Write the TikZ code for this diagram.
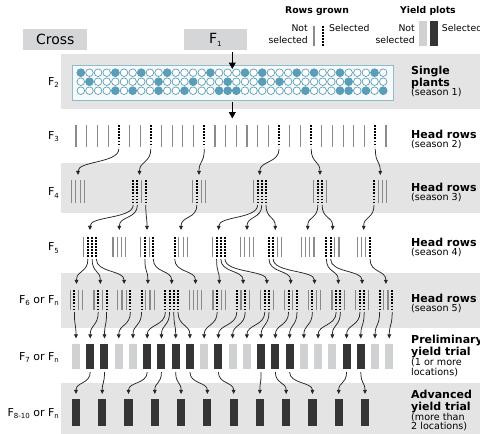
\documentclass[tikz,border=0pt]{standalone}
\usepackage{fontspec}
\setmainfont{DejaVu Sans}
\usetikzlibrary{arrows.meta}
\definecolor{band}{HTML}{E4E4E4}
\definecolor{boxg}{HTML}{D5D6D7}
\definecolor{tealf}{HTML}{5A9DB8}
\definecolor{tealb}{HTML}{8CBCCD}
\definecolor{poolbg}{HTML}{F6FAFB}
\definecolor{rowg}{HTML}{8A8A8A}
\definecolor{plotl}{HTML}{D0D1D3}
\definecolor{plotd}{HTML}{353535}
\newcommand\Fsb[1]{F\raisebox{-2.5pt}{\fontsize{7}{7}\selectfont #1}}
\newcommand\blf{\fontsize{11}{12}\selectfont\bfseries}
\newcommand\smf{\fontsize{9.6}{10}\selectfont}
\newcommand\lgf{\fontsize{9.3}{10}\selectfont}
\tikzset{
  topbox/.style={fill=boxg, inner sep=0pt, font=\fontsize{14}{15}\selectfont},
  rlab/.style={anchor=base west, inner sep=0pt},
  llab/.style={anchor=base east, inner sep=0pt, font=\fontsize{11}{12}\selectfont},
  r0/.style={draw=rowg, line width=1.1pt},
  r1/.style={draw=black, line width=2pt, dash pattern=on 1.8pt off 1.3pt},
  conn/.style={draw=black!85, line width=0.75pt, -{Triangle[length=4.2pt,width=3.8pt]}},
  bigarrow/.style={draw=black, line width=1.1pt, -{Triangle[length=6.5pt,width=7pt]}},
  emptyc/.style={draw=tealf, line width=0.7pt, fill=white},
  fullc/.style={draw=tealf, line width=0.7pt, fill=tealf},
  plotL/.style={fill=plotl, draw=none},
  plotD/.style={fill=plotd, draw=none}
}
\begin{document}
\begin{tikzpicture}[x=1pt,y=-1pt]
\useasboundingbox (0,0) rectangle (480,434);
\fill[white] (0,0) rectangle (480,434);
% bands
\foreach \t/\b in {54/109,163.3/213.3,273.3/328,383.3/434}
  \fill[band] (61,\t) rectangle (480,\b);
% top boxes
\node[topbox, minimum width=64pt, minimum height=20.7pt] (cross) at (55.3,39.65) {Cross};
\node[topbox, minimum width=62.7pt, minimum height=20.7pt] (f1) at (215.35,39.65) {\Fsb{1}};
% legend
\node[anchor=base, inner sep=0pt, font=\lgf\bfseries] (lgRows) at (317,13) {Rows grown};
\node[anchor=base, inner sep=0pt, font=\lgf\bfseries] (lgYield) at (428,13) {Yield plots};
\node[anchor=base east, inner sep=0pt, font=\lgf] (lgN1) at (308,31.7) {Not};
\node[anchor=base east, inner sep=0pt, font=\lgf] (lgN2) at (308,43.3) {selected};
\node[anchor=base west, inner sep=0pt, font=\lgf] (lgS1) at (329,31.7) {Selected};
\node[anchor=base east, inner sep=0pt, font=\lgf] (lgN3) at (415,31.7) {Not};
\node[anchor=base east, inner sep=0pt, font=\lgf] (lgN4) at (415,43.3) {selected};
\node[anchor=base west, inner sep=0pt, font=\lgf] (lgS2) at (441.7,31.7) {Selected};
\draw[r0] (314,25.7) -- (314,45.7);
\draw[r1] (323.3,25.7) -- (323.3,45.7);
\fill[plotL] (419,21) rectangle (426.7,45.7);
\fill[plotD] (430,21) rectangle (438.3,45.7);
% single plants pool
\node[draw=tealb, fill=poolbg, line width=1pt, inner sep=0pt, minimum width=321pt, minimum height=34.3pt] (pool) at (232.5,82.85) {};
\foreach \yy in {72.7,81.7,90.7}
  \foreach \i in {0,...,35}
    \draw[emptyc] ({80.8+8.64*\i},\yy) circle[radius=3.8pt];
\foreach \yy/\lst in {72.7/{0,4,7,10,15,19,21,25,27,30,34},81.7/{1,9,13,17,21,23,31},90.7/{4,6,9,12,16,17,18,26,30,31,33,35}}
  \foreach \i in \lst
    \draw[fullc] ({80.8+8.64*\i},\yy) circle[radius=3.8pt];
% big arrows
\coordinate (a1s) at (232.3,52);
\coordinate (a1t) at (232.3,69);
\coordinate (a2s) at (232.3,102);
\coordinate (a2t) at (232.3,118.5);
\draw[bigarrow] (a1s) -- (a1t);
\draw[bigarrow] (a2s) -- (a2t);
% F3 rows
\foreach \i in {0,1,2,3,5,6,8,9,10,11,13,14,15,16,17,18,20,21,23,24,25,26,27,29}
  \draw[r0] ({76+10.69*\i},125) -- ({76+10.69*\i},146.7);
\foreach \i in {4,7,12,19,22,28}
  \draw[r1] ({76+10.69*\i},125) -- ({76+10.69*\i},146.7);
% F4 groups
\foreach \c/\a/\b/\d/\e in {78/0/0/0/0,139.5/1/1/0/1,199/0/1/0/0,259.7/0/1/1/1,320/0/1/1/0,380.3/1/0/0/0}{
  \draw[r\a] ({\c-6.3},180) -- ({\c-6.3},203.3);
  \draw[r\b] ({\c-2.1},180) -- ({\c-2.1},203.3);
  \draw[r\d] ({\c+2.1},180) -- ({\c+2.1},203.3);
  \draw[r\e] ({\c+6.3},180) -- ({\c+6.3},203.3);
}
% F5 groups
\foreach \c/\a/\b/\d/\e in {90/0/1/1/1,119.3/0/0/0/0,147/0/1/0/1,181/1/0/0/0,218.7/0/1/1/1,247/0/0/0/0,275.3/1/1/0/0,307.7/0/0/0/0,332.7/1/1/0/0,363.7/0/0/0/1}{
  \draw[r\a] ({\c-6.3},236.7) -- ({\c-6.3},257.3);
  \draw[r\b] ({\c-2.1},236.7) -- ({\c-2.1},257.3);
  \draw[r\d] ({\c+2.1},236.7) -- ({\c+2.1},257.3);
  \draw[r\e] ({\c+6.3},236.7) -- ({\c+6.3},257.3);
}
% F6 groups
\foreach \c/\a/\b/\d/\e in {76.5/0/1/0/0,100.3/0/1/0/1,124.1/0/0/0/1,147.9/1/0/0/0,171.7/1/1/1/1,195.5/0/0/0/0,219.3/0/1/0/0,243.1/1/0/1/0,266.9/0/1/1/0,290.7/0/1/0/1,314.5/0/1/0/0,338.3/0/1/1/0,362.1/0/1/1/0,385.9/1/0/0/1}{
  \draw[r\a] ({\c-6.3},290) -- ({\c-6.3},310);
  \draw[r\b] ({\c-2.1},290) -- ({\c-2.1},310);
  \draw[r\d] ({\c+2.1},290) -- ({\c+2.1},310);
  \draw[r\e] ({\c+6.3},290) -- ({\c+6.3},310);
}
% F7 plots
\foreach \i/\k in {0/L,1/D,2/D,3/L,4/L,5/D,6/D,7/D,8/D,9/L,10/D,11/L,12/L,13/D,14/D,15/D,16/L,17/L,18/L,19/D,20/D,21/L,22/L}
  \fill[plot\k] ({76+14.24*\i-4},344) rectangle ({76+14.24*\i+4},369.3);
% F8 plots
\foreach \j in {0,...,11}
  \fill[plotD] ({76+26.27*\j-4.1},399.3) rectangle ({76+26.27*\j+4.1},426);
% connectors F3 -> F4
\foreach \k/\s/\t in {1/118.8/78,2/150.8/139.5,3/204.3/199,4/279.1/259.7,5/311.2/320,6/375.3/380.3}{
  \coordinate (c34s\k) at (\s,149);
  \coordinate (c34t\k) at (\t,175);
  \draw[conn] (c34s\k) .. controls +(0,14) and +(0,-14) .. (c34t\k);
}
% connectors F4 -> F5
\foreach \k/\s/\t in {1/133.2/90,2/137.4/119.3,3/145.8/147,4/196.9/181,5/257.6/218.7,6/261.8/247,7/266/275.3,8/317.9/307.7,9/322.1/332.7,10/374/363.7}{
  \coordinate (c45s\k) at (\s,205);
  \coordinate (c45t\k) at (\t,230);
  \draw[conn] (c45s\k) .. controls +(0,14) and +(0,-14) .. (c45t\k);
}
% connectors F5 -> F6
\foreach \k/\s/\t in {1/87.9/76.5,2/92.1/100.3,3/96.3/124.1,4/144.9/147.9,5/153.3/171.7,6/174.7/195.5,7/216.6/219.3,8/220.8/243.1,9/225/266.9,10/269/290.7,11/273.2/314.5,12/326.4/338.3,13/330.6/362.1,14/370/385.9}{
  \coordinate (c56s\k) at (\s,259);
  \coordinate (c56t\k) at (\t,284);
  \draw[conn] (c56s\k) .. controls +(0,14) and +(0,-14) .. (c56t\k);
}
% connectors F6 -> F7
\foreach \k/\s/\t in {1/74.4/76,2/98.2/90.24,3/106.6/104.48,4/130.4/118.72,5/141.6/132.96,6/165.4/147.2,7/169.6/161.44,8/173.8/175.68,9/178/189.92,10/217.2/204.16,11/236.8/218.4,12/245.2/232.64,13/264.8/246.88,14/269/261.12,15/288.6/275.36,16/297/289.6,17/312.4/303.84,18/336.2/318.08,19/340.4/332.32,20/360/346.56,21/364.2/360.8,22/379.6/375.04,23/392.2/389.28}{
  \coordinate (c67s\k) at (\s,312);
  \coordinate (c67t\k) at (\t,338.5);
  \draw[conn] (c67s\k) .. controls +(0,14) and +(0,-14) .. (c67t\k);
}
% connectors F7 -> F8
\foreach \k/\s/\t in {1/90.24/76,2/104.48/102.27,3/147.2/128.54,4/161.44/154.81,5/175.68/181.08,6/189.92/207.35,7/218.4/233.62,8/261.12/259.89,9/275.36/286.16,10/289.6/312.43,11/346.56/338.7,12/360.8/364.97}{
  \coordinate (c78s\k) at (\s,372);
  \coordinate (c78t\k) at (\t,394);
  \draw[conn] (c78s\k) .. controls +(0,12) and +(0,-12) .. (c78t\k);
}
% left labels
\node[llab] (lF2) at (59,85) {\Fsb{2}};
\node[llab] (lF3) at (59,139) {\Fsb{3}};
\node[llab] (lF4) at (59,195.5) {\Fsb{4}};
\node[llab] (lF5) at (59,250.5) {\Fsb{5}};
\node[llab] (lF6) at (59,303) {\Fsb{6} or \Fsb{n}};
\node[llab] (lF7) at (59,360) {\Fsb{7} or \Fsb{n}};
\node[llab] (lF8) at (59,416) {\Fsb{8-10} or \Fsb{n}};
% right labels
\node[rlab, font=\blf] (r2a) at (411,74) {Single};
\node[rlab, font=\blf] (r2b) at (411,86) {plants};
\node[rlab, font=\smf] (r2c) at (411,95) {(season 1)};
\node[rlab, font=\blf] (r3a) at (411,138.3) {Head rows};
\node[rlab, font=\smf] (r3b) at (411,147.3) {(season 2)};
\node[rlab, font=\blf] (r4a) at (411,191.7) {Head rows};
\node[rlab, font=\smf] (r4b) at (411,200.7) {(season 3)};
\node[rlab, font=\blf] (r5a) at (411,246.5) {Head rows};
\node[rlab, font=\smf] (r5b) at (411,255.5) {(season 4)};
\node[rlab, font=\blf] (r6a) at (411,302) {Head rows};
\node[rlab, font=\smf] (r6b) at (411,311) {(season 5)};
\node[rlab, font=\blf] (r7a) at (411,343) {Preliminary};
\node[rlab, font=\blf] (r7b) at (411,355.5) {yield trial};
\node[rlab, font=\smf] (r7c) at (411,365.5) {(1 or more};
\node[rlab, font=\smf] (r7d) at (411,375) {locations)};
\node[rlab, font=\blf] (r8a) at (411,398.3) {Advanced};
\node[rlab, font=\blf] (r8b) at (411,410) {yield trial};
\node[rlab, font=\smf] (r8c) at (411,420) {(more than};
\node[rlab, font=\smf] (r8d) at (411,429.3) {2 locations)};
\end{tikzpicture}
\end{document}
